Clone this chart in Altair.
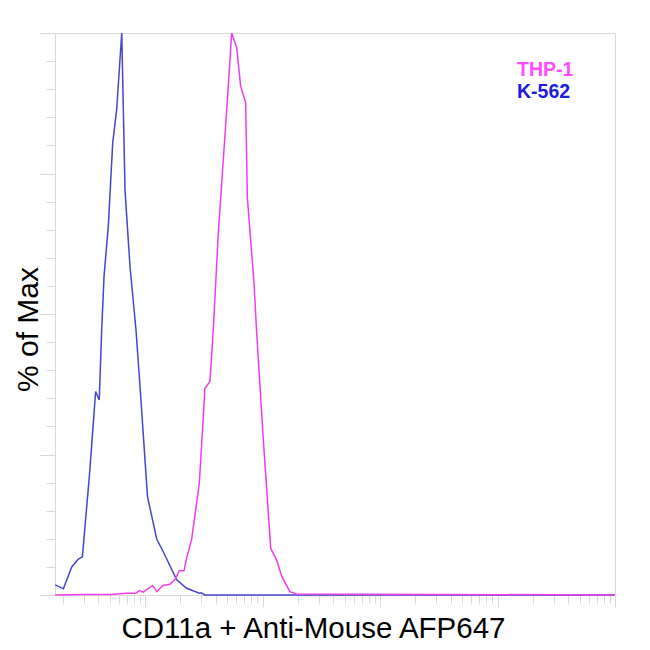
"""
Flow cytometry overlay histogram: CD11a staining on THP-1 and K-562 cells.
"""

import altair as alt
import pandas as pd

# K-562 histogram (intensity, % of max)
K562_X = [1.72, 2.02, 2.38, 2.71, 2.93, 3.36, 3.80, 4.08, 4.28, 4.48, 4.87,
          5.31, 5.74, 6.34, 6.76, 7.45, 8.38, 9.07, 10.5, 12.6, 14.3, 18.6,
          22.6, 29.0, 30.0, 32.4, 52.9, 100000]
K562_Y = [1.8, 1.1, 5.0, 6.4, 6.8, 21.1, 36.2, 34.7, 47.2, 56.7, 65.6,
          80.4, 86.4, 100, 72.0, 58.5, 47.2, 37.1, 17.5, 9.9, 7.7, 2.7,
          1.2, 0.3, 0.4, 0, 0, 0]

# THP-1 histogram (intensity, % of max)
THP1_X = [1.72, 3.08, 5.04, 6.98, 8.38, 8.94, 9.67, 11.6, 12.6, 14.2,
          16.3, 18.0, 19.6, 21.5, 22.6, 24.9, 29.0, 32.4, 35.7, 38.1,
          42.1, 49.6, 54.7, 60.3, 65.2, 71.9, 74.3, 84.7, 88.9, 101.6,
          117.5, 132, 146, 171, 195, 100000]
THP1_Y = [0, 0.1, 0.1, 0.3, 0.3, 0.8, 0.5, 1.7, 0.6, 1.7,
          1.9, 2.8, 4.3, 4.3, 6.6, 9.8, 19.9, 36.8, 38.0, 47.2,
          64.5, 86.4, 100, 97.4, 90.5, 87.6, 70.7, 55.5, 47.2, 27.6,
          8.3, 6.2, 3.3, 0.6, 0.2, 0]

X_DOMAIN = [1.714, 100000]
DECADES = [1, 10, 100, 1000, 10000]
MULTIPLIERS = [2, 3, 4, 5, 6, 7, 8, 9, 10]
Y_TICKS = [0, 5, 10, 15, 20, 25, 30, 35, 40, 45, 50, 55, 60, 65, 70, 75,
           80, 85, 90, 95, 100]

X_TITLE = "CD11a + Anti-Mouse AFP647"
Y_TITLE = "% of Max"
LABELS = ["THP-1", "K-562"]

FONT = "Liberation Sans"
GRAY = "#d9d9d9"


def series_frame(xs, ys, name):
    """Build a long-form frame for one histogram."""
    return pd.DataFrame({"intensity": xs, "pct": ys, "sample": name})


def histogram(df, color):
    """Line layer for one histogram, with the shared axes."""
    x_ticks = [d * m for d in DECADES for m in MULTIPLIERS]
    x_axis = alt.Axis(
        values=x_ticks, labels=False, grid=False,
        tickSize={"condition": {"test": "indexof([10,100,1000,10000,100000], datum.value) >= 0",
                                "value": 12}, "value": 8},
        tickColor=GRAY, domainColor=GRAY,
        title=X_TITLE, titleFont=FONT, titleFontSize=29.5,
        titleFontWeight="normal", titleColor="black",
        titleX=258, titleY=42, titleAlign="center", titleBaseline="alphabetic")
    y_axis = alt.Axis(
        values=Y_TICKS, labels=False, grid=False,
        tickSize={"condition": {"test": "datum.value % 25 === 0", "value": 16},
                  "value": 9},
        tickColor=GRAY, domainColor=GRAY,
        title=Y_TITLE, titleFont=FONT, titleFontSize=30,
        titleFontWeight="normal", titleColor="black", titleAngle=270,
        titleX=-18, titleY=296, titleAlign="center", titleBaseline="alphabetic")
    return alt.Chart(df).mark_line(color=color, strokeWidth=1.5).encode(
        alt.X("intensity:Q", scale=alt.Scale(type="log", domain=X_DOMAIN, nice=False),
              axis=x_axis),
        alt.Y("pct:Q", scale=alt.Scale(domain=[0, 100], nice=False), axis=y_axis),
        order="intensity:Q"
    )


def label(text, color, y):
    """Coloured sample name in the top-right corner."""
    return alt.Chart(pd.DataFrame({"label": [text]})).mark_text(
        align="left", baseline="alphabetic", font=FONT, fontSize=19.5,
        fontWeight="bold", color=color
    ).encode(x=alt.value(462), y=alt.value(y), text="label:N")


def main():
    k562 = histogram(series_frame(K562_X, K562_Y, "K-562"), "#4646cc")
    thp1 = histogram(series_frame(THP1_X, THP1_Y, "THP-1"), "#ee3cee")

    chart = alt.layer(
        k562, thp1,
        label(LABELS[0], "#ff4cff", 43),
        label(LABELS[1], "#1c1ce0", 65)
    ).properties(
        width=560, height=562,
        autosize=alt.AutoSizeParams(type="none"),
        padding={"left": 47, "top": 25, "right": 20, "bottom": 55}
    ).configure_view(stroke=GRAY, strokeWidth=1)

    chart.save("out.html", embed_options={"renderer": "svg", "actions": False})


if __name__ == "__main__":
    main()
